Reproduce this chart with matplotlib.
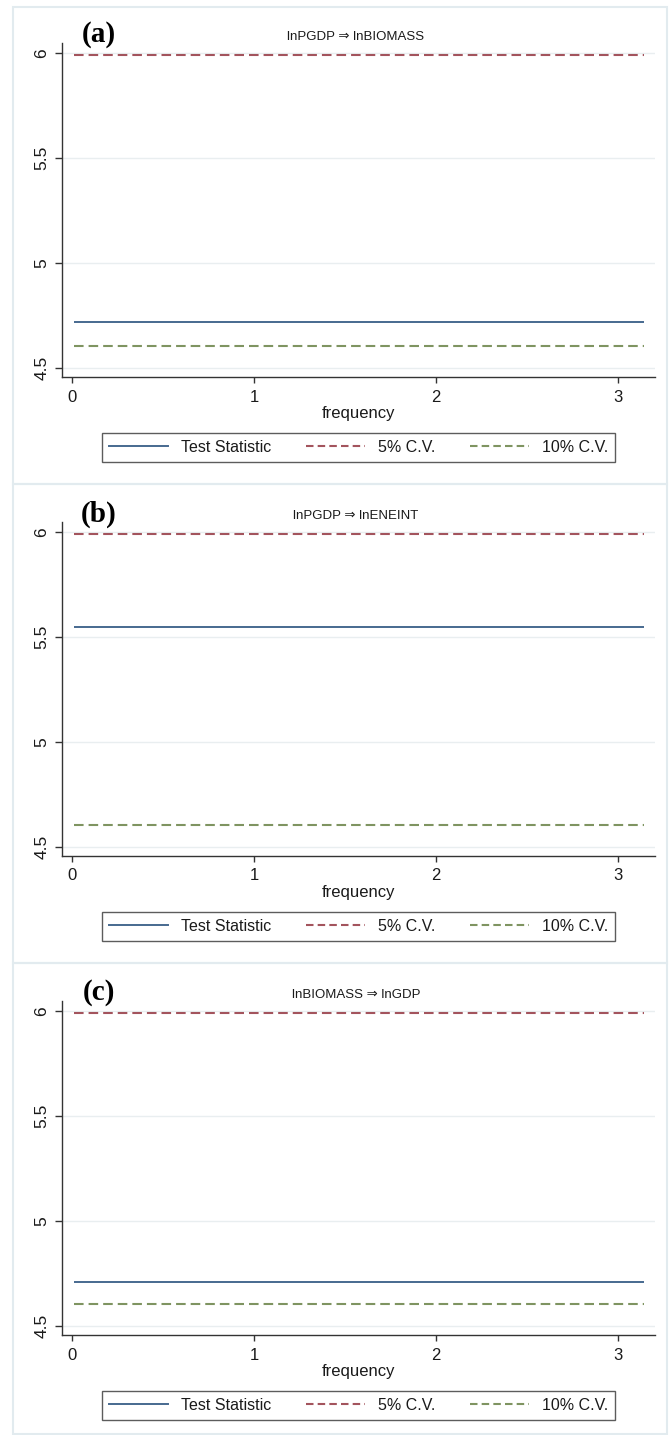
import numpy as np
import matplotlib
matplotlib.use("Agg")
import matplotlib.pyplot as plt
from matplotlib.patches import Rectangle
from matplotlib.lines import Line2D

plt.rcParams['font.family'] = ['Liberation Sans', 'DejaVu Sans']

# ---- data ----
panel_labels = ["(a)", "(b)", "(c)"]
panel_titles = ["lnPGDP \u21d2 lnBIOMASS", "lnPGDP \u21d2 lnENEINT", "lnBIOMASS \u21d2 lnGDP"]
frequency = [0.01, 3.14]
test_statistic = [4.72, 5.55, 4.71]
cv_5pct = [5.99, 5.99, 5.99]
cv_10pct = [4.605, 4.605, 4.605]
y_ticks = [4.5, 5, 5.5, 6]
y_ticklabels = ["4.5", "5", "5.5", "6"]
x_ticks = [0, 1, 2, 3]
x_ticklabels = ["0", "1", "2", "3"]
legend_labels = ["Test Statistic", "5% C.V.", "10% C.V."]

W, H = 670, 1435
fig = plt.figure(figsize=(W / 100, H / 100), dpi=100)
fig.patch.set_facecolor('white')

def fx(px):
    return px / W

def fy(py):
    return 1 - py / H

c_test = '#46698f'
c_5 = '#a3545d'
c_10 = '#7f9461'
txt = '#1a1a1a'
axc = '#333333'
dash_line = (0, (4.6, 2.4))
dash_leg = (0, (3.6, 2.0))

panel_h = 479
frame_tops = [7, 484, 963]
frame_bots = [484, 963, 1434]
for i in range(3):
    dy = i * panel_h
    # panel frame
    fig.patches.append(Rectangle((fx(13), fy(frame_bots[i])),
                                 fx(667) - fx(13),
                                 (frame_bots[i] - frame_tops[i]) / H,
                                 transform=fig.transFigure, fill=False,
                                 edgecolor='#e2ebef', linewidth=1.5, zorder=0))

    ax = fig.add_axes([fx(62), fy(377 + dy), fx(655) - fx(62), (377 - 43) / H])
    ax.set_xlim(-0.055, 3.203)
    ax.set_ylim(4.457, 6.048)
    n = len(frequency)
    ax.plot(frequency, [test_statistic[i]] * n, color=c_test, lw=1.4, solid_capstyle='butt', zorder=3)
    ax.plot(frequency, [cv_5pct[i]] * n, color=c_5, lw=1.5, ls=dash_line, zorder=3)
    ax.plot(frequency, [cv_10pct[i]] * n, color=c_10, lw=1.5, ls=dash_line, zorder=3)

    ax.set_yticks(y_ticks)
    ax.set_yticklabels(y_ticklabels, rotation=90, va='center')
    ax.set_xticks(x_ticks)
    ax.set_xticklabels(x_ticklabels)
    ax.tick_params(axis='y', direction='out', length=5, width=1, color=axc,
                   labelsize=12.5, labelcolor=txt, pad=4)
    ax.tick_params(axis='x', direction='out', length=4.5, width=1, color=axc,
                   labelsize=12, labelcolor=txt, pad=4.5)
    for s in ['top', 'right']:
        ax.spines[s].set_visible(False)
    for s in ['left', 'bottom']:
        ax.spines[s].set_color(axc)
        ax.spines[s].set_linewidth(1)
    ax.grid(axis='y', color='#e9eef0', lw=1)
    ax.set_axisbelow(True)
    ax.set_xlabel('frequency', fontsize=12, color=txt, labelpad=1)

    fig.text(fx(356), fy(37 + dy), panel_titles[i], fontsize=9.5, color=txt,
             ha='center', va='center')
    fig.text(fx(99), fy(35 + dy), panel_labels[i], fontsize=21, fontweight='bold',
             family=['Liberation Serif', 'DejaVu Serif'], color='black',
             ha='center', va='center')

    handles = [Line2D([], [], color=c_test, lw=1.4),
               Line2D([], [], color=c_5, lw=1.5, ls=dash_leg),
               Line2D([], [], color=c_10, lw=1.5, ls=dash_leg)]
    leg = fig.legend(handles, legend_labels, ncol=3, mode='expand',
                     bbox_to_anchor=(fx(102), fy(463 + dy), fx(615) - fx(102), (463 - 432) / H),
                     loc='center', fontsize=11.5, frameon=True, fancybox=False,
                     edgecolor=axc, handlelength=3.7, handletextpad=0.8,
                     borderpad=0.45, borderaxespad=0)
    leg.get_frame().set_linewidth(1)
    for t in leg.get_texts():
        t.set_color(txt)

fig.savefig('out.png', dpi=100, facecolor='white')
